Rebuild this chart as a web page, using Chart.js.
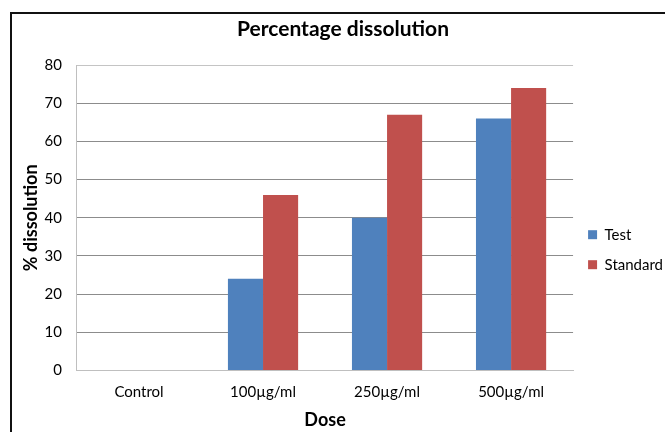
<!DOCTYPE html>
<html>
<head>
<meta charset="utf-8">
<script src="https://cdn.jsdelivr.net/npm/chart.js@4.4.1/dist/chart.umd.min.js"></script>
<style>
  html, body { margin: 0; padding: 0; background: #fff; }
  #wrap { position: relative; width: 665px; height: 432px; overflow: hidden; }
  #frame { position: absolute; left: 10px; top: 12px; width: 700px; height: 460px; border: 2px solid #111; box-sizing: border-box; }
  #holder { position: absolute; left: 0; top: 0; width: 673px; height: 432px; }
</style>
</head>
<body>
<div id="wrap">
  <div id="frame"></div>
  <div id="holder"><canvas id="chart"></canvas></div>
</div>
<script>
/* ---- data ---- */
const doses = ["Control", "100µg/ml", "250µg/ml", "500µg/ml"];
const testValues = [0, 24, 40, 66];
const standardValues = [0, 46, 67, 74];

const FONT = "Lato, 'Liberation Sans', sans-serif";

new Chart(document.getElementById("chart"), {
    type: "bar",
    data: {
        labels: doses,
        datasets: [
            { label: "Test", data: testValues, backgroundColor: "#4F81BD", borderWidth: 0 },
            { label: "Standard", data: standardValues, backgroundColor: "#C0504D", borderWidth: 0 }
        ]
    },
    options: {
        responsive: true,
        maintainAspectRatio: false,
        animation: false,
        datasets: { bar: { barPercentage: 1, categoryPercentage: 0.566 } },
        layout: { padding: { top: 12, left: 13, right: 0, bottom: 1 } },
        plugins: {
            title: {
                display: true,
                text: "Percentage dissolution",
                color: "#000",
                font: { family: FONT, size: 21, weight: "bold" },
                padding: { top: 5, bottom: 23 }
            },
            legend: {
                position: "right",
                align: "center",
                // empty title only pushes the two items down a little
                title: { display: true, text: " ", padding: { top: 42, bottom: 0 } },
                labels: {
                    color: "#000",
                    font: { family: FONT, size: 15 },
                    boxWidth: 9,
                    boxHeight: 9,
                    padding: 15
                }
            },
            tooltip: { enabled: false }
        },
        scales: {
            x: {
                grid: { display: false, drawTicks: false },
                border: { color: "#bfbfbf" },
                ticks: { color: "#000", font: { family: FONT, size: 15 }, padding: 13 },
                title: {
                    display: true,
                    text: "Dose",
                    color: "#000",
                    font: { family: FONT, size: 18, weight: "bold" },
                    padding: { top: 8, bottom: 0 }
                },
                // the tick padding is counted twice when fitting; give one back
                afterFit: scale => { scale.height -= 13; }
            },
            y: {
                min: 0,
                max: 80,
                ticks: { stepSize: 10, color: "#000", font: { family: FONT, size: 15 }, padding: 15 },
                grid: {
                    drawTicks: false,
                    color: ctx => (ctx.index === 0 || ctx.tick.value === 80) ? "#c4c4c4" : "#8c8c8c"
                },
                border: { color: "#bfbfbf" },
                title: {
                    display: true,
                    text: "% dissolution",
                    color: "#000",
                    font: { family: FONT, size: 18, weight: "bold" },
                    padding: { top: 7, bottom: 3 }
                },
                afterFit: scale => { scale.width -= 15; }
            }
        }
    }
});
</script>
</body>
</html>
